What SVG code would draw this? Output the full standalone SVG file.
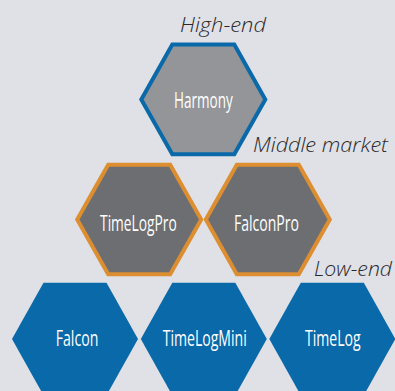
<svg xmlns="http://www.w3.org/2000/svg" xmlns:xlink="http://www.w3.org/1999/xlink" width="395" height="391" viewBox="0 0 395 391">
<style>
.bg{fill:#dfe1e6}
.top{fill:#939598;stroke:#0a69a8;stroke-width:4;stroke-linejoin:miter}
.mid{fill:#6d6e71;stroke:#dc8e31;stroke-width:4;stroke-linejoin:miter}
.low{fill:#0969a9}
.lbl{font-family:"Open Sans","Liberation Sans",sans-serif;font-size:22px;font-weight:400;fill:#ffffff;text-anchor:middle}
.tier{font-family:"Open Sans","Liberation Sans",sans-serif;font-size:21px;font-style:italic;font-weight:300;fill:#2a2a2c}
</style>
<defs>
<polygon id="hexO" points="-62,0 -31,-54.8 31,-54.8 62,0 31,54.8 -31,54.8"/>
<polygon id="hexS" points="-63,0 -31.5,-56.3 31.5,-56.3 63,0 31.5,56.3 -31.5,56.3"/>
</defs>
<rect class="bg" x="0" y="0" width="395" height="391"/>
<g id="connectors"></g>
<g id="tier-labels">
<text class="tier" x="180" y="31.5" textLength="86" lengthAdjust="spacingAndGlyphs">High-end</text>
<text class="tier" x="253" y="152.3" textLength="135" lengthAdjust="spacingAndGlyphs">Middle market</text>
<text class="tier" x="314" y="276" textLength="78" lengthAdjust="spacingAndGlyphs">Low-end</text>
</g>
<g id="harmony">
<use xlink:href="#hexO" class="top" transform="translate(203.3,99.4)"/>
<text class="lbl" x="203.4" y="108.3" textLength="58.7" lengthAdjust="spacingAndGlyphs">Harmony</text>
</g>
<g id="timelogpro">
<use xlink:href="#hexO" class="mid" transform="translate(139.2,219.5)"/>
<text class="lbl" x="138.4" y="231" textLength="76.7" lengthAdjust="spacingAndGlyphs">TimeLogPro</text>
</g>
<g id="falconpro">
<use xlink:href="#hexO" class="mid" transform="translate(267.8,219.5)"/>
<text class="lbl" x="266.5" y="231" textLength="65" lengthAdjust="spacingAndGlyphs">FalconPro</text>
</g>
<g id="falcon">
<use xlink:href="#hexS" class="low" transform="translate(75,339)"/>
<text class="lbl" x="77" y="346" textLength="42.6" lengthAdjust="spacingAndGlyphs">Falcon</text>
</g>
<g id="timelogmini">
<use xlink:href="#hexS" class="low" transform="translate(203.8,339)"/>
<text class="lbl" x="204.7" y="346" textLength="84" lengthAdjust="spacingAndGlyphs">TimeLogMini</text>
</g>
<g id="timelog">
<use xlink:href="#hexS" class="low" transform="translate(332.3,339)"/>
<text class="lbl" x="332.8" y="346" textLength="55.7" lengthAdjust="spacingAndGlyphs">TimeLog</text>
</g>
</svg>
